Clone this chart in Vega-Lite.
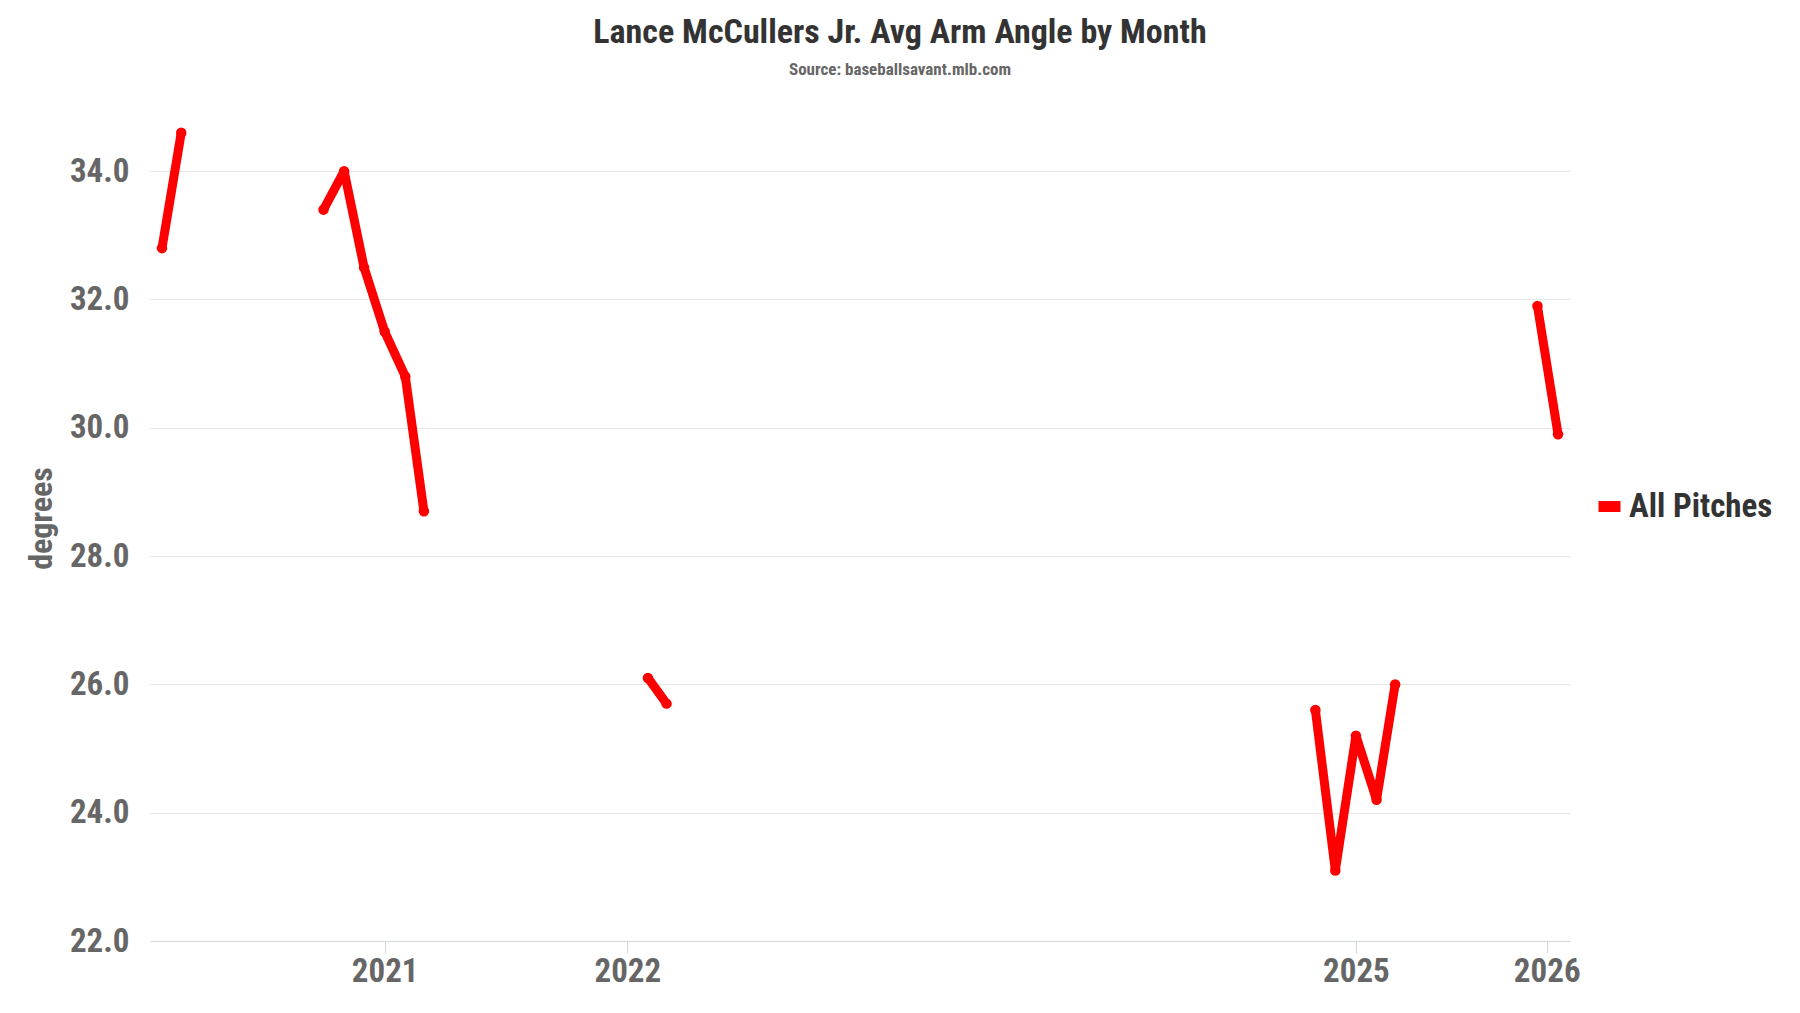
{
  "$schema": "https://vega.github.io/schema/vega-lite/v6.json",
  "autosize": {"type": "none"},
  "width": 1420,
  "height": 834,
  "padding": {"left": 150, "top": 107, "right": 230, "bottom": 72},
  "background": "white",
  "title": {
    "text": "Lance McCullers Jr. Avg Arm Angle by Month",
    "subtitle": "Source: baseballsavant.mlb.com",
    "anchor": "middle",
    "frame": "group",
    "dx": 40,
    "font": "Roboto Condensed, DejaVu Sans Condensed, Roboto, sans-serif",
    "fontSize": 34,
    "fontWeight": "bold",
    "color": "#333333",
    "subtitleFont": "Roboto Condensed, DejaVu Sans Condensed, Roboto, sans-serif",
    "subtitleFontSize": 17,
    "subtitleFontWeight": "bold",
    "subtitleColor": "#666666",
    "subtitlePadding": 12,
    "offset": 29
  },
  "data": {
    "values": [
      {"month": "2020-02-01T00:00:00", "angle": 32.8, "seg": 1, "series": "All Pitches"},
      {"month": "2020-03-01T00:00:00", "angle": 34.6, "seg": 1, "series": "All Pitches"},
      {"month": "2020-10-01T00:00:00", "angle": 33.4, "seg": 2, "series": "All Pitches"},
      {"month": "2020-11-01T00:00:00", "angle": 34.0, "seg": 2, "series": "All Pitches"},
      {"month": "2020-12-01T00:00:00", "angle": 32.5, "seg": 2, "series": "All Pitches"},
      {"month": "2021-01-01T00:00:00", "angle": 31.5, "seg": 2, "series": "All Pitches"},
      {"month": "2021-02-01T00:00:00", "angle": 30.8, "seg": 2, "series": "All Pitches"},
      {"month": "2021-03-01T00:00:00", "angle": 28.7, "seg": 2, "series": "All Pitches"},
      {"month": "2022-02-01T00:00:00", "angle": 26.1, "seg": 3, "series": "All Pitches"},
      {"month": "2022-03-01T00:00:00", "angle": 25.7, "seg": 3, "series": "All Pitches"},
      {"month": "2024-11-01T00:00:00", "angle": 25.6, "seg": 4, "series": "All Pitches"},
      {"month": "2024-12-01T00:00:00", "angle": 23.1, "seg": 4, "series": "All Pitches"},
      {"month": "2025-01-01T00:00:00", "angle": 25.2, "seg": 4, "series": "All Pitches"},
      {"month": "2025-02-01T00:00:00", "angle": 24.2, "seg": 4, "series": "All Pitches"},
      {"month": "2025-03-01T00:00:00", "angle": 26.0, "seg": 4, "series": "All Pitches"},
      {"month": "2025-10-01T00:00:00", "angle": 31.9, "seg": 5, "series": "All Pitches"},
      {"month": "2025-11-01T00:00:00", "angle": 29.9, "seg": 5, "series": "All Pitches"}
    ]
  },
  "encoding": {
    "x": {
      "field": "month",
      "type": "temporal",
      "scale": {"domain": [{"year": 2020, "month": 1, "date": 14}, {"year": 2025, "month": 11, "date": 19}]},
      "axis": {
        "title": null,
        "values": [{"year": 2021, "month": 1, "date": 1}, {"year": 2022, "month": 1, "date": 1}, {"year": 2025, "month": 1, "date": 1}, {"year": 2025, "month": 10, "date": 15}],
        "labelExpr": "month(datum.value) == 9 ? '2026' : timeFormat(datum.value, '%Y')",
        "grid": false,
        "domainColor": "#d3d8de",
        "tickColor": "#d3d8de",
        "tickSize": 12,
        "labelFont": "Roboto Condensed, DejaVu Sans Condensed, Roboto, sans-serif",
        "labelFontSize": 33,
        "labelFontWeight": "bold",
        "labelColor": "#666666",
        "labelPadding": 2,
        "labelFlush": false,
        "labelOverlap": false
      }
    },
    "y": {
      "field": "angle",
      "type": "quantitative",
      "scale": {"domain": [22, 35], "nice": false, "zero": false},
      "axis": {
        "title": "degrees",
        "values": [22, 24, 26, 28, 30, 32, 34],
        "format": ".1f",
        "domain": false,
        "ticks": false,
        "gridColor": "#e6e6e6",
        "labelPadding": 21,
        "labelFont": "Roboto Condensed, DejaVu Sans Condensed, Roboto, sans-serif",
        "labelFontSize": 33,
        "labelFontWeight": "bold",
        "labelColor": "#666666",
        "titleFont": "Roboto Condensed, DejaVu Sans Condensed, Roboto, sans-serif",
        "titleFontSize": 32,
        "titleFontWeight": "bold",
        "titleColor": "#666666",
        "titleX": -92,
        "titleY": 411
      }
    },
    "color": {
      "field": "series",
      "type": "nominal",
      "scale": {"domain": ["All Pitches"], "range": ["#ff0000"]},
      "legend": {
        "title": null,
        "orient": "none",
        "legendX": 1443,
        "legendY": 383,
        "symbolType": "stroke",
        "symbolSize": 484,
        "symbolStrokeWidth": 11,
        "labelFont": "Roboto Condensed, DejaVu Sans Condensed, Roboto, sans-serif",
        "labelFontSize": 33,
        "labelFontWeight": "bold",
        "labelColor": "#333333",
        "labelOffset": 3,
        "padding": 0
      }
    },
    "detail": {"field": "seg", "type": "nominal"}
  },
  "layer": [
    {"mark": {"type": "line", "strokeWidth": 9, "strokeCap": "round", "strokeJoin": "round"}},
    {"mark": {"type": "point", "filled": true, "size": 110, "opacity": 1}, "encoding": {"color": {"value": "#ff0000"}}}
  ],
  "config": {"view": {"stroke": null}}
}
